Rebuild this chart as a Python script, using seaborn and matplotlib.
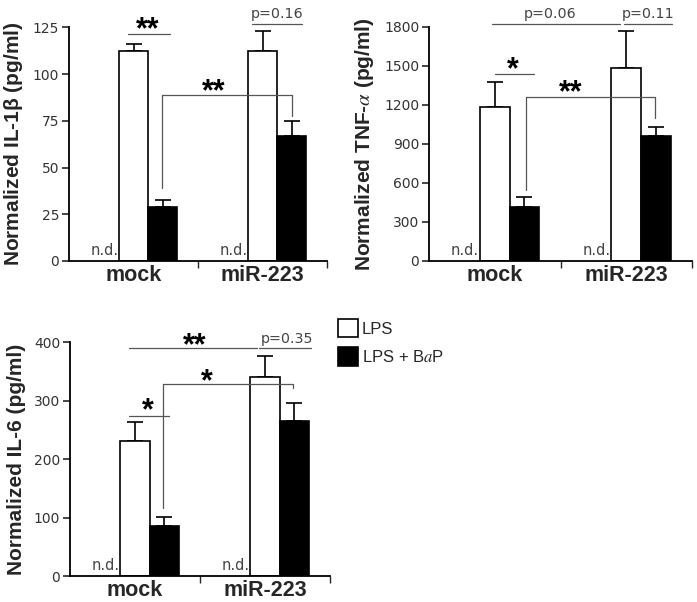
import numpy as np
import pandas as pd
import matplotlib
matplotlib.use("Agg")
import matplotlib.pyplot as plt
from matplotlib.patches import Patch
import seaborn as sns

# data (mean, upper error)
groups = ["mock", "miR-223"]
treatments = ["n.d.", "LPS", "LPS + BaP"]

il1b_mean = [np.nan, 112.5, 28.7, np.nan, 112.5, 66.8]
il1b_err = [0, 3.5, 3.9, 0, 10.5, 8.2]

tnf_mean = [np.nan, 1180, 417, np.nan, 1485, 960]
tnf_err = [0, 197, 77, 0, 282, 71]

il6_mean = [np.nan, 231.7, 86, np.nan, 340, 266]
il6_err = [0, 32, 14.5, 0, 37, 29.6]

# significance marks: (x0, x1, y, left drop, right drop, label, label x, label y)
il1b_sig = [(-0.04, 0.28, 121.4, None, None, "**", 0.11, 123.5),
            (0.92, 1.31, 126.7, None, None, "p=0.16", 1.11, 128.5),
            (0.22, 1.23, 88.8, 39, 77.5, "**", 0.62, 90.4)]
tnf_sig = [(0.0, 0.30, 1436, None, None, "*", 0.14, 1467),
           (-0.02, 0.95, 1820, None, None, "p=0.06", 0.42, 1845),
           (0.985, 1.35, 1820, None, None, "p=0.11", 1.17, 1845),
           (0.235, 1.22, 1260, 545, 1098, "**", 0.58, 1290)]
il6_sig = [(-0.05, 0.94, 390, None, None, "**", 0.46, 394),
           (0.95, 1.35, 390, None, None, "p=0.35", 1.17, 394),
           (0.215, 1.215, 329, 116, 322, "*", 0.55, 332),
           (-0.05, 0.26, 274, None, None, "*", 0.10, 282)]

sns.set_style("ticks")
plt.rcParams["font.family"] = ["Liberation Sans", "DejaVu Sans"]
plt.rcParams["mathtext.fontset"] = "stix"

fig = plt.figure(figsize=(6.97, 6.02), dpi=100)
ax1 = fig.add_axes([69/697, 1-261/602, 258/697, 233.7/602])
ax2 = fig.add_axes([429/697, 1-261/602, 263/697, 234.3/602])
ax3 = fig.add_axes([70/697, 1-576/602, 260/697, 233.7/602])

panels = [
    (ax1, il1b_mean, il1b_err, il1b_sig, 125, [0, 25, 50, 75, 100, 125],
     r"Normalized IL-1$\mathregular{\beta}$ (pg/ml)"),
    (ax2, tnf_mean, tnf_err, tnf_sig, 1800, [0, 300, 600, 900, 1200, 1500, 1800],
     r"Normalized TNF-$\alpha$ (pg/ml)"),
    (ax3, il6_mean, il6_err, il6_sig, 400, [0, 100, 200, 300, 400],
     "Normalized IL-6 (pg/ml)"),
]

for ax, mean, err, sig, ymax, yticks, ylab in panels:
    df = pd.DataFrame({
        "group": [g for g in groups for _ in treatments],
        "treatment": treatments * len(groups),
        "value": mean,
        "err": err,
    })
    sns.barplot(data=df, x="group", y="value", hue="treatment",
                hue_order=treatments, order=groups,
                palette=["white", "white", "black"], edgecolor="black",
                linewidth=1.2, width=0.675, errorbar=None, legend=False,
                ax=ax, zorder=2)
    bars = [p for p in ax.patches if np.isfinite(p.get_height()) and p.get_height() > 0]
    bars.sort(key=lambda p: p.get_x())
    shown = df[df["value"].notna()]
    xs = [p.get_x() + p.get_width() / 2 for p in bars]
    hs = [p.get_height() for p in bars]
    ax.errorbar(xs, hs, yerr=[np.zeros(len(xs)), shown["err"].values],
                fmt="none", ecolor="black", elinewidth=1.2, capsize=5.5,
                capthick=1.2, zorder=1)
    # n.d. labels in the empty first slot of each group
    for gi in range(len(groups)):
        ax.text(gi - 0.675 / 3, ymax * 0.012, "n.d.", ha="center", va="bottom",
                fontsize=10.5, color="#444444", family="DejaVu Sans")

    for x0, x1, y, dl, dr, lab, lx, ly in sig:
        ax.plot([x0, x1], [y, y], color="#555555", lw=0.9, clip_on=False)
        if dl is not None:
            ax.plot([x0, x0], [y, dl], color="#555555", lw=0.9, clip_on=False)
            ax.plot([x1, x1], [y, dr], color="#555555", lw=0.9, clip_on=False)
        if lab.startswith("p"):
            ax.text(lx, ly, lab, ha="center", va="bottom", fontsize=10.3,
                    color="#444444", family="DejaVu Sans", clip_on=False)
        else:
            ax.text(lx, ly, lab, ha="center", va="center", fontsize=22,
                    fontweight="bold", color="black", clip_on=False)

    ax.set_xlim(-0.5, 1.5)
    ax.set_ylim(0, ymax)
    ax.set_yticks(yticks)
    ax.set_yticklabels([str(t) for t in yticks], family="DejaVu Sans")
    ax.set_ylabel(ylab, fontsize=15, fontweight="bold", labelpad=6)
    ax.set_xlabel("")
    ax.set_xticks([0, 1])
    ax.set_xticklabels(groups, fontsize=15.5, fontweight="bold")
    ax.set_xticks([0.5, 1.5], minor=True)
    ax.tick_params(axis="x", which="major", length=0, pad=3)
    ax.tick_params(axis="x", which="minor", length=5, width=1, direction="out")
    ax.tick_params(axis="y", length=5, width=1.2, labelsize=10,
                   labelcolor="#333333", pad=2)
    for s in ["left", "bottom"]:
        ax.spines[s].set_linewidth(1.3)
        ax.spines[s].set_color("black")
    sns.despine(ax=ax)

handles = [Patch(facecolor="white", edgecolor="black", linewidth=1.2),
           Patch(facecolor="black", edgecolor="black", linewidth=1.2)]
fig.legend(handles, ["LPS", "LPS + B$\\it{a}$P"], loc="upper left",
           bbox_to_anchor=(330/697, 1-311/602), frameon=False, fontsize=12,
           handlelength=1.15, handleheight=1.3, handletextpad=0.25,
           labelspacing=0.6, borderpad=0)

fig.savefig("out.png", dpi=100)
